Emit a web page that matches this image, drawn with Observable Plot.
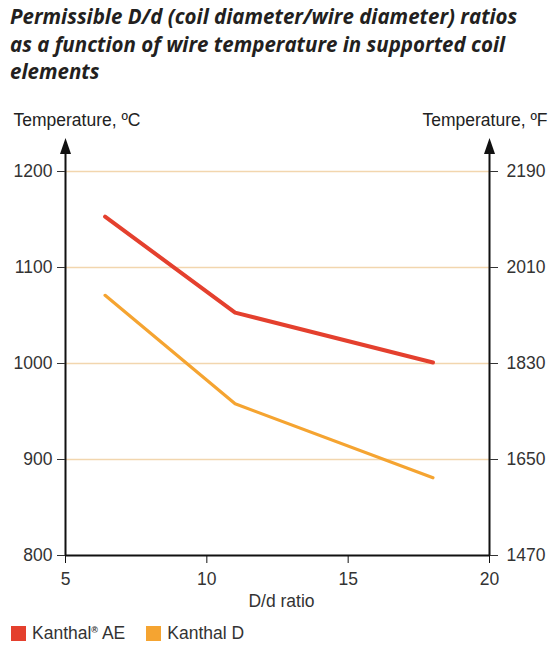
<!DOCTYPE html>
<html>
<head>
<meta charset="utf-8">
<script src="https://cdn.jsdelivr.net/npm/d3@7"></script>
<script src="https://cdn.jsdelivr.net/npm/@observablehq/plot@0.6"></script>
<style>
  html, body { margin: 0; padding: 0; background: #fff; }
  #wrap { width: 550px; height: 646px; position: relative; overflow: hidden; }
  #title {
    height: 95px; box-sizing: border-box; padding: 3px 0 0 10px;
    font-family: "Open Sans", Lato, sans-serif; font-weight: 700; font-style: italic;
    font-size: 20.5px; line-height: 27.5px; color: #231f20; white-space: nowrap;
  }
  #legend {
    display: flex; align-items: center; height: 26px; padding-left: 11px;
    font-family: "Liberation Sans", Arial, sans-serif; font-size: 17.5px; color: #333;
  }
  #legend .sw { width: 15px; height: 15px; display: inline-block; margin-right: 6px; }
  #legend .item { display: flex; align-items: center; margin-right: 21px; }
  #legend sup { font-size: 9px; vertical-align: 6px; font-weight: bold; }
</style>
</head>
<body>
<div id="wrap">
  <div id="title">Permissible D/d (coil diameter/wire diameter) ratios<br>as a function of wire temperature in supported coil<br>elements</div>
  <div id="chart"></div>
  <div id="legend"></div>
</div>
<script>
// ---- data ----
const dRatio = [6.4, 11, 18];
const kanthalAE = [1153, 1053, 1001];
const kanthalD = [1071, 958, 881];
const seriesNames = ["Kanthal® AE", "Kanthal D"];
const seriesColors = ["#e4402e", "#f5a431"];
const celsiusTicks = [800, 900, 1000, 1100, 1200];
const gridTicks = [900, 1000, 1100, 1200];
const fahrenheitLabels = ["1470", "1650", "1830", "2010", "2190"];
const xTicks = [5, 10, 15, 20];
const xDomain = [5, 20];
const yDomain = [800, 1200];
const yArrowTop = 1235;
const leftTitle = "Temperature, ºC";
const rightTitle = "Temperature, ºF";
const xTitle = "D/d ratio";

const rows = [];
dRatio.forEach((x, i) => {
  rows.push({series: seriesNames[0], x, y: kanthalAE[i]});
  rows.push({series: seriesNames[1], x, y: kanthalD[i]});
});

const chart = Plot.plot({
  width: 550,
  height: 525,
  marginLeft: 65,
  marginRight: 61,
  marginTop: 76,
  marginBottom: 65,
  x: {domain: xDomain},
  y: {domain: yDomain},
  style: {fontFamily: "'Liberation Sans', Arial, sans-serif", fontSize: "17.5px", color: "#333", background: "white", overflow: "visible"},
  marks: [
    Plot.ruleY(gridTicks, {stroke: "#f2d6ae", strokeWidth: 1.5}),
    Plot.line(rows.filter(d => d.series === seriesNames[1]), {x: "x", y: "y", stroke: seriesColors[1], strokeWidth: 3.2, strokeLinejoin: "round"}),
    Plot.line(rows.filter(d => d.series === seriesNames[0]), {x: "x", y: "y", stroke: seriesColors[0], strokeWidth: 4, strokeLinejoin: "round"}),
    Plot.ruleX(xDomain, {y1: yDomain[0], y2: yArrowTop - 5, stroke: "#111", strokeWidth: 2}),
    Plot.ruleY([yDomain[0]], {x1: xDomain[0], x2: xDomain[1], stroke: "#111", strokeWidth: 2}),
    Plot.vector(xDomain, {x: d => d, y: yArrowTop, length: 16, r: 5.5, shape: "spike", anchor: "end", fill: "#111", stroke: "none"}),
    Plot.axisX({ticks: xTicks, tickSize: 8, tickPadding: 9, label: null, tickFormat: d => String(d), stroke: "#111"}),
    Plot.axisY({anchor: "left", ticks: celsiusTicks, tickSize: 8, tickPadding: 5, label: null, tickFormat: d => String(d)}),
    Plot.axisY({anchor: "right", ticks: celsiusTicks, tickSize: 8, tickPadding: 9, label: null, tickFormat: (d, i) => fahrenheitLabels[celsiusTicks.indexOf(d)]}),
    Plot.text([leftTitle], {text: d => d, frameAnchor: "top-left", dx: -52, dy: -51, textAnchor: "start", lineAnchor: "middle", fill: "#222"}),
    Plot.text([rightTitle], {text: d => d, frameAnchor: "top-right", dx: 58, dy: -51, textAnchor: "end", lineAnchor: "middle", fill: "#222"}),
    Plot.text([xTitle], {text: d => d, frameAnchor: "bottom", dx: 4, dy: 46, lineAnchor: "middle", fill: "#333"})
  ]
});
document.getElementById("chart").appendChild(chart);

const legend = document.getElementById("legend");
seriesNames.forEach((name, i) => {
  const item = document.createElement("span");
  item.className = "item";
  const sw = document.createElement("span");
  sw.className = "sw";
  sw.style.background = seriesColors[i];
  item.appendChild(sw);
  const label = document.createElement("span");
  if (name.includes("®")) {
    const [a, b] = name.split("®");
    label.appendChild(document.createTextNode(a));
    const sup = document.createElement("sup");
    sup.textContent = "®";
    label.appendChild(sup);
    label.appendChild(document.createTextNode(b));
  } else {
    label.textContent = name;
  }
  item.appendChild(label);
  legend.appendChild(item);
});
</script>
</body>
</html>
